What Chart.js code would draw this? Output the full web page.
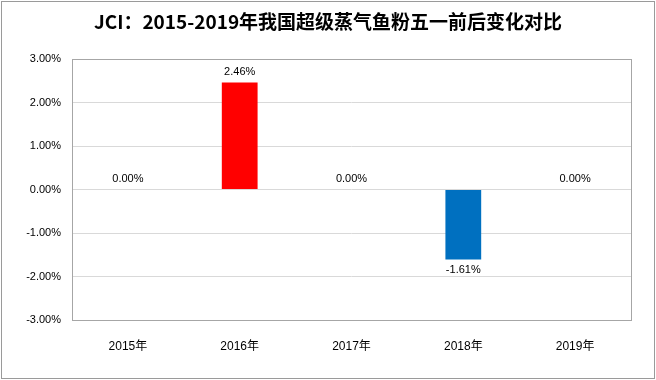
<!DOCTYPE html>
<html>
<head>
<meta charset="utf-8">
<script src="https://cdn.jsdelivr.net/npm/chart.js@4/dist/chart.umd.min.js"></script>
<style>
body { margin: 0; background: #fff; }
#wrap { width: 656px; height: 380px; }
</style>
</head>
<body>
<div id="wrap"><canvas id="myChart" width="656" height="380"></canvas></div>
<script>
var years = ["2015年", "2016年", "2017年", "2018年", "2019年"];
var changes = [0, 2.46, 0, -1.61, 0];
var yTicks = [-3, -2, -1, 0, 1, 2, 3];

var fontFamily = '"Liberation Sans", "Noto Sans CJK SC", sans-serif';

// bar value labels + chart frame + plot frame
var extras = {
    id: "extras",
    afterDatasetsDraw: function(chart) {
        var ctx = chart.ctx;
        var meta = chart.getDatasetMeta(0);
        ctx.save();
        ctx.font = "11px " + fontFamily;
        ctx.fillStyle = "#000";
        ctx.textAlign = "center";
        meta.data.forEach(function(bar, i) {
            var v = changes[i];
            var txt = v.toFixed(2) + "%";
            if (v < 0) {
                ctx.textBaseline = "top";
                ctx.fillText(txt, bar.x, bar.y + 5);
            } else {
                ctx.textBaseline = "bottom";
                ctx.fillText(txt, bar.x, bar.y - 5);
            }
        });
        var a = chart.chartArea;
        ctx.strokeStyle = "#a6a6a6";
        ctx.lineWidth = 1;
        ctx.strokeRect(Math.round(a.left) + 0.5, Math.round(a.top) + 0.5,
            Math.round(a.right - a.left), Math.round(a.bottom - a.top));
        ctx.strokeStyle = "#9a9a9a";
        ctx.strokeRect(1.5, 1.5, chart.width - 3, chart.height - 3);
        ctx.restore();
    }
};

var chart = new Chart("myChart", {
    type: "bar",
    data: {
        labels: years,
        datasets: [{
            data: changes,
            backgroundColor: changes.map(function(v) { return v < 0 ? "#0070c0" : "#ff0000"; }),
            categoryPercentage: 1,
            barPercentage: 0.32
        }]
    },
    options: {
        responsive: false,
        animation: false,
        layout: { padding: 0 },
        plugins: {
            legend: { display: false },
            tooltip: { enabled: false },
            title: {
                display: true,
                text: "JCI：2015-2019年我国超级蒸气鱼粉五一前后变化对比",
                color: "#000",
                font: { family: '"Noto Sans CJK SC", sans-serif', size: 19, weight: "bold", lineHeight: 1.2 },
                padding: { top: 10, bottom: 26.2 }
            }
        },
        scales: {
            x: {
                grid: { display: false, drawTicks: false },
                border: { display: false },
                ticks: { color: "#000", padding: 19, font: { family: fontFamily, size: 12 } },
                afterFit: function(scale) { scale.height = 60; }
            },
            y: {
                min: yTicks[0],
                max: yTicks[yTicks.length - 1],
                grid: { color: "#d9d9d9", drawTicks: false },
                border: { display: false },
                ticks: {
                    stepSize: 1,
                    color: "#000",
                    padding: 11,
                    font: { family: fontFamily, size: 11 },
                    callback: function(v) { return v.toFixed(2) + "%"; }
                },
                afterFit: function(scale) { scale.width = 72; }
            },
            // empty right margin so the title stays centred on the canvas
            yRight: {
                position: "right",
                min: yTicks[0],
                max: yTicks[yTicks.length - 1],
                grid: { display: false, drawTicks: false },
                border: { display: false },
                ticks: { display: false },
                afterFit: function(scale) { scale.width = 25; }
            }
        }
    },
    plugins: [extras]
});
</script>
</body>
</html>
